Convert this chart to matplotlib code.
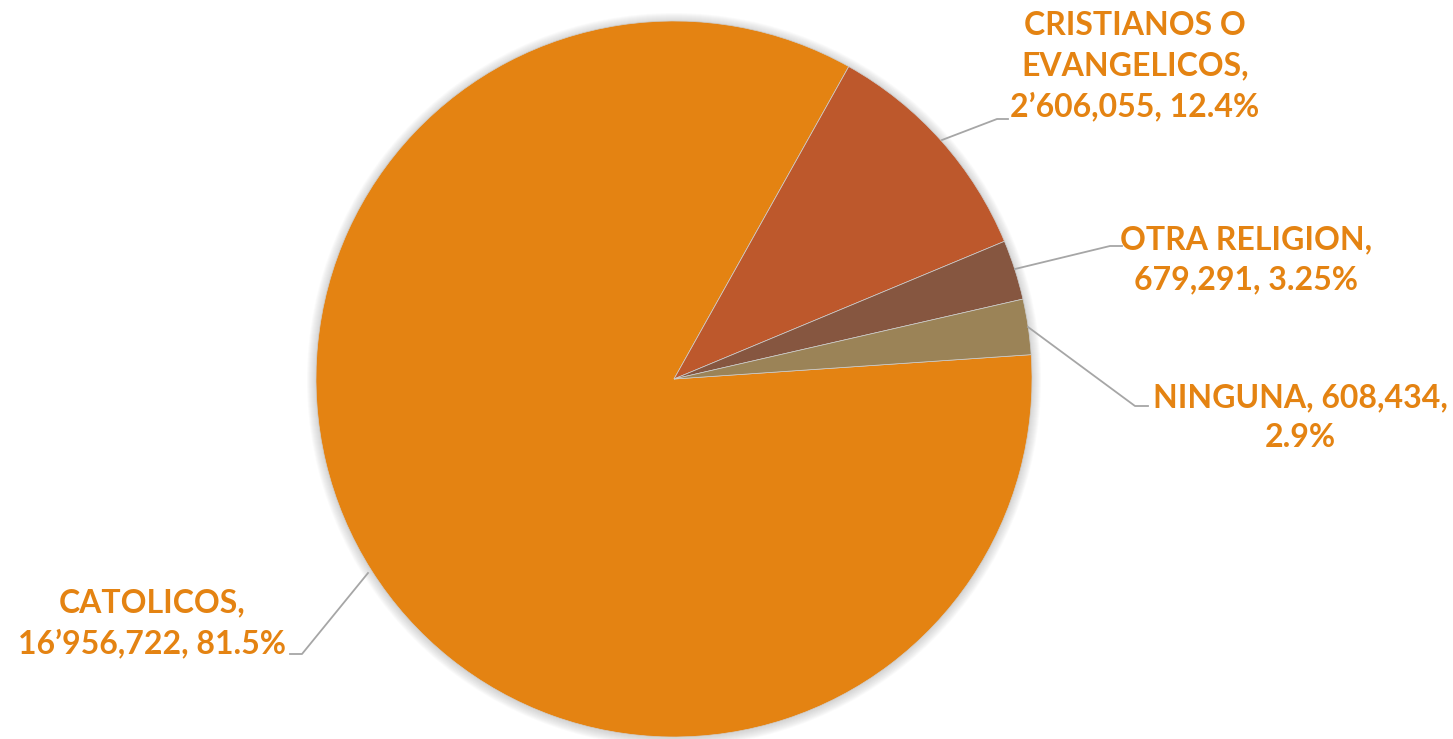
import matplotlib.pyplot as plt
from matplotlib.patches import Circle

# religiones - valores de las etiquetas
labels = ['CATOLICOS,\n16\u2019956,722, 81.5%',
          'CRISTIANOS O\nEVANGELICOS,\n2\u2019606,055, 12.4%',
          'OTRA RELIGION,\n679,291, 3.25%',
          'NINGUNA, 608,434,\n2.9%']
# porcentajes medidos en el dibujo del pastel
shares = [84.2, 10.6, 2.7, 2.5]
colors = ['#E48312', '#BD582C', '#865640', '#9B8357']

W, H = 1453, 739
cx, cy, r = 674, H - 379, 358

fig = plt.figure(figsize=(W / 100, H / 100), dpi=100)
ax = fig.add_axes([0, 0, 1, 1])

# sombra suave
for k in range(1, 10):
    ax.add_patch(Circle((cx, cy - 1), r + k, color='gray', alpha=0.035, lw=0, zorder=0))

ax.pie(shares, colors=colors, startangle=3.9, counterclock=False,
       center=(cx, cy), radius=r, frame=True,
       wedgeprops=dict(edgecolor='#cfcfcf', linewidth=0.5, zorder=2))
ax.set_xlim(0, W)
ax.set_ylim(0, H)
ax.set_aspect('equal')
ax.axis('off')

# lineas guia
leaders = [[(368, 573), (302, 654), (290, 654)],
           [(942, 140), (997, 119), (1008, 119)],
           [(1015, 269), (1110, 246), (1122, 246)],
           [(1028, 327), (1135, 406), (1148, 406)]]
for pts in leaders:
    ax.plot([p[0] for p in pts], [H - p[1] for p in pts], color='#A6A6A6', lw=1.3, zorder=3)

label_pos = [(152, 623), (1135, 66), (1246, 260), (1300, 418)]
for txt, (x, y) in zip(labels, label_pos):
    ax.text(x, H - y, txt, ha='center', va='center', multialignment='center',
            fontsize=23, fontweight='bold', family='Lato', color='#E48312',
            linespacing=1.45, zorder=4)

fig.savefig('out.png', dpi=100)
